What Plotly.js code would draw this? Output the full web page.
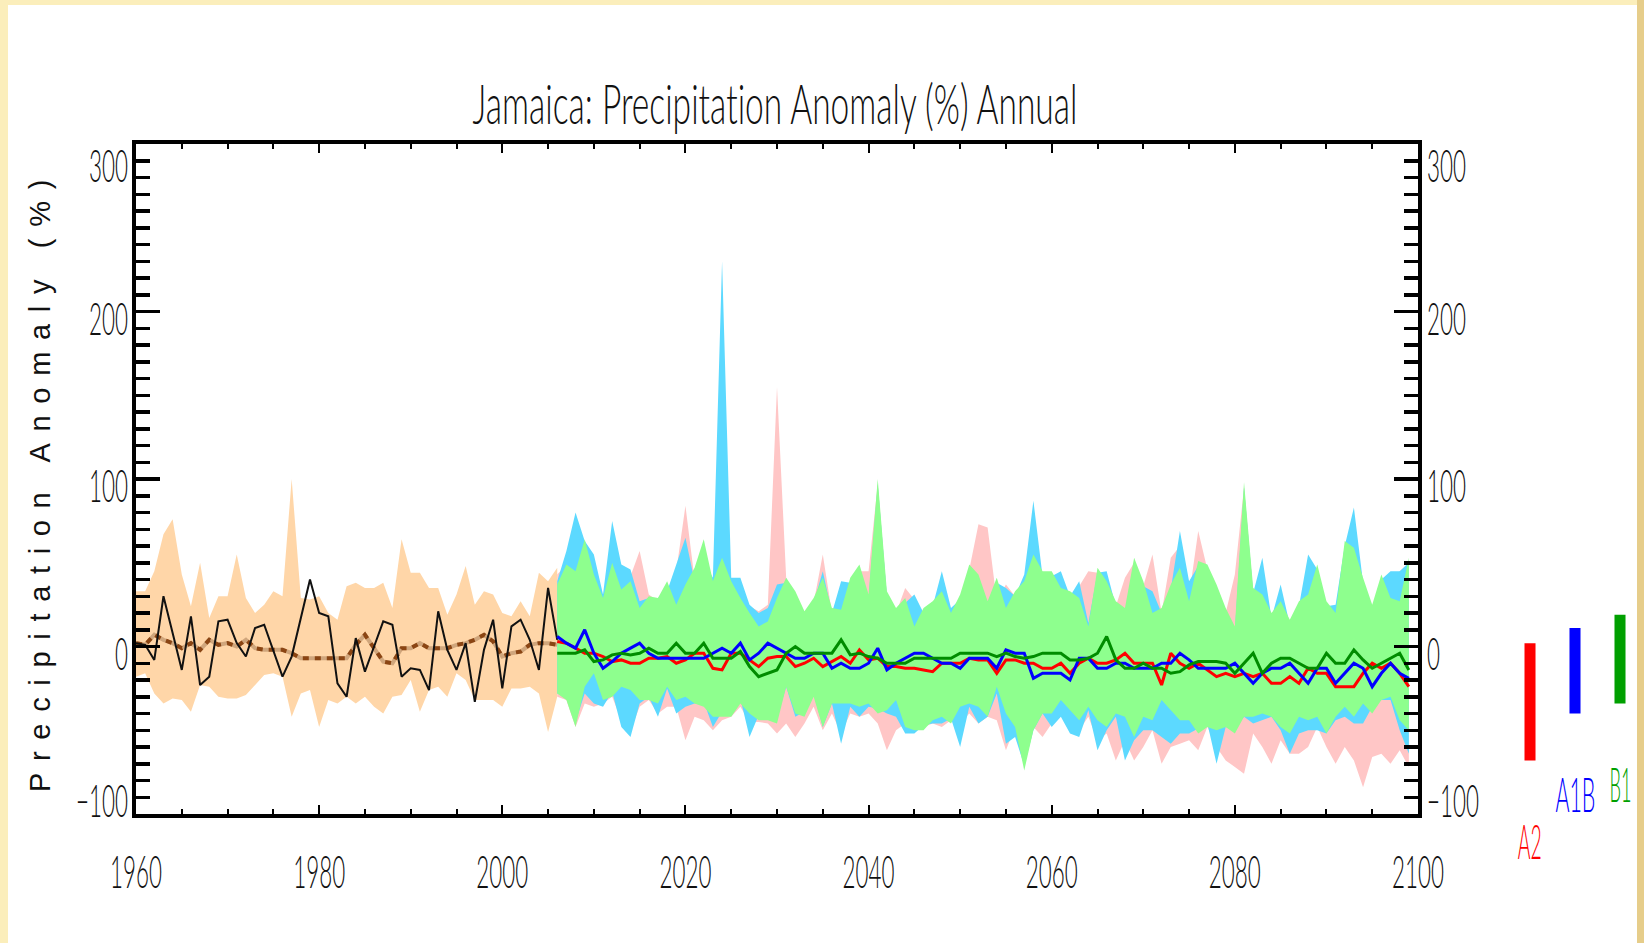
<!DOCTYPE html>
<html>
<head>
<meta charset="utf-8">
<script src="https://cdn.plot.ly/plotly-3.0.1.min.js"></script>
<style>
html,body{margin:0;padding:0;width:1644px;height:943px;overflow:hidden;background:#fbeebb;}
#sheet{position:absolute;left:8px;top:5px;width:1629px;height:938px;background:#ffffff;}
#edge{position:absolute;left:1637px;top:0;width:7px;height:943px;background:#e6cd8a;}
#chart{position:absolute;left:0;top:0;width:1644px;height:943px;}
#chart text{font-variant-ligatures:none;font-feature-settings:"liga" 0;}
</style>
</head>
<body>
<div id="sheet"></div><div id="edge"></div><div id="chart"></div>
<script>
// ---------------- data ----------------
const histStart = 1960;   // 1960..2006
const futStart = 2006;    // 2006..2099

// 20th-century model range (orange), model median (brown), observations (black)
const histHigh = [33,33,45,67,76,43,24,50,17,30, 30,55,29,20,25,33,30,100,29,28, 30,20,16,36,38,35,35,38,23,64, 44,44,35,35,19,31,48,25,33,31, 20,18,27,18,44,39,47];
const histLow = [-18,-16,-28,-34,-31,-32,-39,-23,-24,-30, -31,-31,-29,-23,-17,-16,-18,-42,-28,-26, -48,-32,-34,-30,-34,-30,-36,-40,-30,-29, -20,-39,-26,-24,-30,-16,-20,-32,-32,-32, -36,-25,-25,-24,-28,-51,-30];
const histMedian = [2,1,7,4,2,-1,2,-2,4,1, 2,0,4,-1,-2,-2,-2,-4,-7,-7, -7,-7,-7,-7,1,7,-1,-9,-10,-1, -1,2,-1,-1,-1,1,2,4,7,3, -6,-4,-3,1,2,2,1];
const observed = [2,1,-8,30,8,-14,18,-23,-18,15, 16,2,-6,11,13,-2,-18,-6,18,40, 20,18,-22,-30,5,-15,0,15,13,-18, -13,-14,-26,21,-2,-14,2,-33,-2,16, -25,12,16,4,-14,35,4];

// Scenario ranges and medians
const a2High = [43,49,70,55,50,28,65,45,42,57, 31,27,30,45,84,40,57,38,50,36, 36,24,21,25,155,41,30,18,26,55, 20,36,38,45,45,97,30,20,35,28, 20,24,40,20,28,46,73,71,27,37, 30,36,50,42,42,40,30,36,45,44, 36,24,41,50,36,55,20,53,60,30, 69,46,34,20,43,95,32,45,17,30, 13,24,40,46,24,20,60,70,38,22, 40,40,45,50];
const a2Low = [-30,-32,-48,-34,-36,-34,-30,-44,-50,-36, -32,-40,-36,-36,-56,-42,-44,-50,-44,-42, -36,-45,-45,-46,-52,-46,-54,-46,-36,-50, -40,-52,-40,-42,-40,-46,-62,-50,-46,-50, -48,-46,-48,-44,-46,-40,-46,-42,-44,-62, -48,-60,-48,-54,-46,-40,-48,-50,-42,-56, -52,-68,-56,-68,-60,-50,-70,-60,-58,-56, -62,-48,-60,-68,-72,-76,-52,-60,-70,-56, -64,-64,-60,-48,-60,-70,-60,-68,-84,-66, -64,-70,-62,-72];
const a1bHigh = [39,57,80,63,55,31,75,49,46,27, 29,29,33,49,65,39,51,41,230,41, 41,25,20,23,37,38,30,18,26,45, 20,39,38,46,28,97,30,20,26,31, 20,24,45,23,28,46,40,24,38,35, 30,43,87,42,42,45,30,39,14,44, 45,24,20,50,36,33,20,34,69,39, 48,46,34,20,9,95,32,53,17,37, 13,24,55,46,24,25,60,83,38,22, 40,45,45,50];
const a1bLow = [-28,-30,-45,-28,-34,-36,-27,-48,-54,-34, -30,-42,-25,-40,-36,-34,-33,-48,-39,-40, -31,-54,-41,-40,-43,-24,-42,-39,-28,-48, -34,-58,-36,-42,-36,-37,-40,-42,-52,-52, -47,-46,-46,-43,-60,-36,-46,-42,-28,-58, -54,-71,-50,-40,-48,-42,-52,-54,-38,-62, -50,-42,-68,-56,-50,-50,-54,-58,-52,-52, -49,-46,-70,-48,-49,-42,-46,-44,-42,-50, -64,-52,-50,-50,-52,-44,-42,-46,-46,-36, -32,-32,-50,-64];
const b1High = [37,49,45,64,43,29,50,34,39,23, 30,29,39,25,37,47,64,39,53,39, 29,20,12,15,29,41,33,21,29,41, 23,22,41,49,31,100,33,23,29,12, 23,27,33,20,31,49,43,27,41,23, 33,39,55,45,45,35,33,29,12,47, 39,27,23,53,39,20,23,37,47,27, 51,49,37,23,12,98,35,31,20,27, 16,27,31,49,27,20,63,59,41,25, 43,29,27,53];
const b1Low = [-28,-32,-48,-24,-16,-32,-30,-24,-26,-32, -32,-34,-24,-32,-30,-34,-36,-42,-42,-42, -34,-40,-44,-44,-46,-24,-40,-42,-30,-48, -34,-34,-34,-36,-34,-40,-38,-32,-48,-50, -50,-44,-42,-46,-36,-34,-36,-42,-24,-40, -48,-74,-50,-40,-40,-32,-38,-44,-36,-44, -48,-40,-42,-54,-42,-44,-32,-38,-44,-44, -52,-48,-50,-48,-52,-42,-42,-40,-42,-48, -52,-42,-44,-42,-52,-42,-36,-42,-34,-40, -32,-30,-44,-50];
const a2Median = [3,2,-1,-4,-4,-6,-9,-8,-10,-10, -7,-7,-6,-10,-8,-4,-4,-13,-14,-4, -4,-8,-12,-7,-6,-6,-12,-10,-7,-12, -9,-6,-10,-2,-8,-7,-12,-12,-13,-13, -14,-15,-10,-10,-10,-7,-8,-8,-16,-8, -8,-10,-10,-13,-13,-10,-16,-10,-7,-10, -10,-8,-4,-10,-10,-10,-23,-4,-10,-13, -10,-14,-18,-16,-18,-16,-18,-16,-22,-22, -18,-22,-13,-16,-16,-24,-24,-24,-16,-10, -13,-10,-16,-24];
const a1bMedian = [6,2,-1,10,-4,-13,-9,-4,-1,2, -4,-7,-7,-7,-7,-7,-7,-4,-1,-4, 2,-8,-4,2,-1,-4,-7,-7,-4,-4, -13,-10,-13,-13,-10,-1,-14,-10,-7,-4, -4,-7,-10,-10,-13,-7,-7,-7,-13,-2, -4,-4,-19,-16,-16,-16,-20,-7,-7,-13, -13,-10,-10,-13,-13,-13,-10,-10,-4,-8, -13,-13,-13,-13,-10,-16,-22,-16,-13,-13, -10,-16,-22,-13,-13,-22,-16,-10,-13,-24, -16,-10,-16,-19];
const b1Median = [-4,-4,-4,-2,-9,-8,-5,-4,-5,-4, -1,-4,-4,2,-4,-4,2,-7,-7,-7, -3,-12,-18,-16,-14,-4,0,-4,-4,-4, -4,4,-5,-4,-6,-7,-10,-10,-10,-7, -7,-7,-7,-7,-4,-4,-4,-4,-6,-4, -6,-7,-6,-4,-4,-4,-8,-8,-7,-4, 6,-8,-13,-13,-10,-13,-13,-16,-15,-11, -9,-9,-9,-10,-16,-10,-4,-16,-10,-7, -7,-10,-13,-13,-4,-10,-10,-2,-8,-13, -10,-7,-4,-14];

// Scenario legend bars (range of change)
const scenarios = ['A2', 'A1B', 'B1'];
const rangeLow = [-68, -40, -34];
const rangeHigh = [2, 11, 19];

const histYears = histHigh.map((_, i) => histStart + i);
const futYears = b1High.map((_, i) => futStart + i);

// ---------------- traces ----------------
function band(x, lo, hi, color) {
  return [
    {x: x, y: lo, type: 'scatter', mode: 'lines', line: {width: 0, color: color}, hoverinfo: 'skip'},
    {x: x, y: hi, type: 'scatter', mode: 'lines', line: {width: 0, color: color}, fill: 'tonexty', fillcolor: color, hoverinfo: 'skip'}
  ];
}
const scenColors = ['#ff0000', '#0000ff', '#00a000'];
const traces = [].concat(
  band(histYears, histLow, histHigh, '#ffd6a8'),
  band(futYears, a2Low, a2High, '#ffc6c6'),
  band(futYears, a1bLow, a1bHigh, '#5cd9ff'),
  band(futYears, b1Low, b1High, '#8eff8e'),
  [
    {x: histYears, y: histMedian, type: 'scatter', mode: 'lines', line: {color: '#d0a67c', width: 4}},
    {x: histYears, y: histMedian, type: 'scatter', mode: 'lines', line: {color: '#8b4513', width: 4, dash: '6px,6px'}},
    {x: histYears, y: observed, type: 'scatter', mode: 'lines', line: {color: '#111111', width: 2}},
    {x: futYears, y: a2Median, type: 'scatter', mode: 'lines', line: {color: '#ff0000', width: 3}},
    {x: futYears, y: a1bMedian, type: 'scatter', mode: 'lines', line: {color: '#0000ff', width: 3}},
    {x: futYears, y: b1Median, type: 'scatter', mode: 'lines', line: {color: '#008c00', width: 3}},
    {x: scenarios, y: rangeHigh.map((h, i) => h - rangeLow[i]), base: rangeLow, type: 'bar',
     xaxis: 'x2', yaxis: 'y', width: 0.245, marker: {color: scenColors, line: {width: 0}}},
    {x: [], y: [], type: 'scatter', xaxis: 'x', yaxis: 'y2'}
  ]
);

// ---------------- layout ----------------
const THIN = "Lato, 'Liberation Sans Narrow', 'Liberation Sans', sans-serif";
const yTicks = {
  range: [-100, 300], tick0: 0, dtick: 100, ticks: 'inside', ticklen: 24, tickwidth: 3.5, tickcolor: '#000',
  minor: {dtick: 10, ticks: 'inside', ticklen: 14, tickwidth: 3.5, tickcolor: '#000'},
  showline: true, linewidth: 4, linecolor: '#000', showgrid: false, zeroline: false,
  tickfont: {family: THIN, size: 26, color: '#111', weight: 300}, fixedrange: true
};
const layout = {
  width: 1644, height: 943,
  margin: {l: 136, r: 10, t: 144, b: 129, pad: 0},
  paper_bgcolor: 'rgba(0,0,0,0)', plot_bgcolor: 'rgba(0,0,0,0)',
  showlegend: false,
  title: {text: 'Jamaica: Precipitation Anomaly (%) Annual', font: {family: THIN, size: 30, color: '#111', weight: 300},
          x: 0.4266, xref: 'paper', xanchor: 'center', y: 1 - 103 / 943, yref: 'container', yanchor: 'middle'},
  xaxis: {domain: [0, 0.85581], range: [1960, 2100], tick0: 1960, dtick: 20, ticks: 'inside', ticklen: 9, tickwidth: 2,
          tickcolor: '#000', minor: {dtick: 5, ticks: 'inside', ticklen: 5, tickwidth: 2, tickcolor: '#000'},
          showline: true, linewidth: 4, linecolor: '#000', mirror: 'ticks', showgrid: false, zeroline: false,
          tickfont: {family: THIN, size: 26, color: '#111', weight: 300}, fixedrange: true},
  xaxis2: {domain: [0.8705, 1], type: 'category', categoryorder: 'array', categoryarray: scenarios,
           range: [-2, 2.311], visible: false, anchor: 'y', fixedrange: true},
  yaxis: Object.assign({}, yTicks, {anchor: 'x', side: 'left',
           title: {text: 'Precipitation Anomaly (%)', font: {family: "'Liberation Sans', Arial, sans-serif", size: 29, color: '#111'}}}),
  yaxis2: Object.assign({}, yTicks, {anchor: 'x', side: 'right', overlaying: 'y'}),
  annotations: scenarios.map((s, i) => ({
    text: s, xref: 'x2', yref: 'paper', x: s, y: [-0.039, 0.031, 0.046][i], showarrow: false,
    font: {family: THIN, size: 24, color: scenColors[i], weight: 300}, xanchor: 'center', yanchor: 'middle'
  }))
};

// ---------------- post-render text styling (tall condensed lettering) ----------------
function fit(el, sx, sy, tgt) {
  const old = el.getAttribute('transform') || '';
  const bb = el.getBBox();
  const cx = bb.x + bb.width / 2, cy = bb.y + bb.height / 2;
  const inner = ' translate(' + cx + ',' + cy + ') scale(' + sx + ',' + sy + ') translate(' + (-cx) + ',' + (-cy) + ')';
  el.setAttribute('transform', old + inner);
  if (!tgt) return;
  const r = el.getBoundingClientRect();
  let dx = 0, dy = 0;
  if (tgt.cx != null) dx = tgt.cx - (r.left + r.right) / 2;
  if (tgt.left != null) dx = tgt.left - r.left;
  if (tgt.right != null) dx = tgt.right - r.right;
  if (tgt.cy != null) dy = tgt.cy - (r.top + r.bottom) / 2;
  el.setAttribute('transform', 'translate(' + dx + ',' + dy + ') ' + old + inner);
}

Plotly.newPlot('chart', traces, layout, {staticPlot: true, displayModeBar: false}).then(function (gd) {
  const L = 136, R = 1418, T = 144, B = 814;
  const yPx = v => B - (v + 100) * (B - T) / 400;
  const xPx = v => L + (v - 1960) * (R - L) / 140;
  const num = s => parseFloat(s.replace('\u2212', '-'));
  const tickSy = 1.72;

  const yl = Array.from(document.querySelectorAll('.ytick text'));
  const y2l = Array.from(document.querySelectorAll('.y2tick text'));
  const xl = Array.from(document.querySelectorAll('.xtick text'));
  let ref = yl.find(e => e.textContent === '300') || yl[0];
  const sxT = 39 / ref.getBBox().width;
  const cyFor = v => Math.min(Math.max(yPx(v) + 6, T + 21), B - 14);
  yl.forEach(el => fit(el, sxT, tickSy, {right: 128, cy: cyFor(num(el.textContent))}));
  y2l.forEach(el => fit(el, sxT, tickSy, {left: 1427, cy: cyFor(num(el.textContent))}));
  xl.forEach(el => fit(el, sxT, tickSy, {cx: xPx(num(el.textContent)), cy: 871}));

  const title = document.querySelector('.gtitle');
  if (title) fit(title, 605 / title.getBBox().width, 1.86, {cx: 775, cy: 103});

  const widths = {A2: 24, A1B: 40, B1: 22};
  document.querySelectorAll('.annotation-text').forEach(el => {
    const w = widths[el.textContent] || el.getBBox().width;
    fit(el, w / el.getBBox().width, 1.95, null);
  });

  const yt = document.querySelector('.ytitle');
  if (yt) {
    let ls = 10;
    for (let k = 0; k < 4; k++) {
      yt.style.letterSpacing = ls + 'px';
      const h = yt.getBoundingClientRect().height;
      ls += (624 - h) / 24;
    }
    yt.style.letterSpacing = ls + 'px';
    const r = yt.getBoundingClientRect();
    const dx = 40 - (r.left + r.right) / 2, dy = 480 - (r.top + r.bottom) / 2;
    yt.setAttribute('transform', 'translate(' + dx + ',' + dy + ') ' + (yt.getAttribute('transform') || ''));
  }
});
</script>
</body>
</html>
